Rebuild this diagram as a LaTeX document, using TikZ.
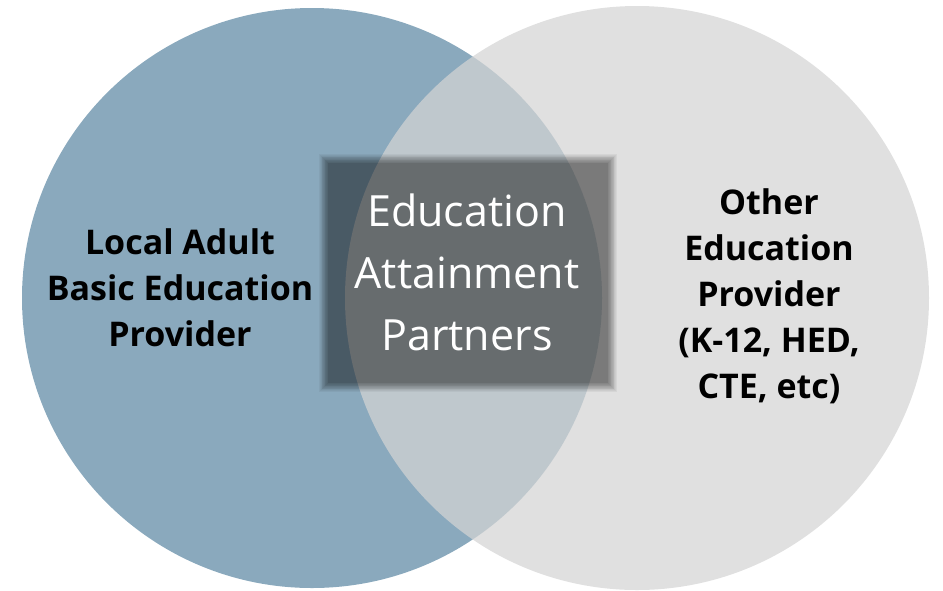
\documentclass[tikz,border=0pt]{standalone}
\usepackage{fontspec}
\setmainfont{Open Sans}
\usepackage{xcolor}
\usepackage{tikz}
\usetikzlibrary{calc, fit, positioning}

\definecolor{adultblue}{RGB}{138,169,189}
\definecolor{othergray}{RGB}{212,212,212}

\begin{document}
\begin{tikzpicture}[x=1pt,y=-1pt,
                    set node/.style={circle,inner sep=0pt,minimum size=580pt},
                    side label/.style={align=center,text=black,font=\fontsize{34}{46}\selectfont\bfseries},
                    mid label/.style={align=center,text=white,font=\fontsize{43}{62}\selectfont}]

  \useasboundingbox (0,0) rectangle (943,590);
  \clip (0,0) rectangle (943,590);

  \node[set node,fill=adultblue] (adult) at (312,298) {};
  \node[set node,minimum size=584pt,fill=othergray,fill opacity=0.73] (other) at (637,298) {};

  \node[side label] (adultlbl) at (180,288) {Local Adult\\Basic Education\\Provider};
  \node[side label] (otherlbl) at (769,296) {Other\\Education\\Provider\\(K-12, HED,\\CTE, etc)};

  % soft dark box in the overlap
  \node (Box) at (468,273) [minimum width=297pt,minimum height=237pt,inner sep=0pt] {};
  \foreach \d in {0,0.75,...,9}
    \fill[black,opacity=0.045] ($(Box.north west)+(\d,\d)$) rectangle ($(Box.south east)-(\d,\d)$);

  \node[mid label] (partners) at (467,272) {Education\\Attainment\\Partners};
\end{tikzpicture}
\end{document}
